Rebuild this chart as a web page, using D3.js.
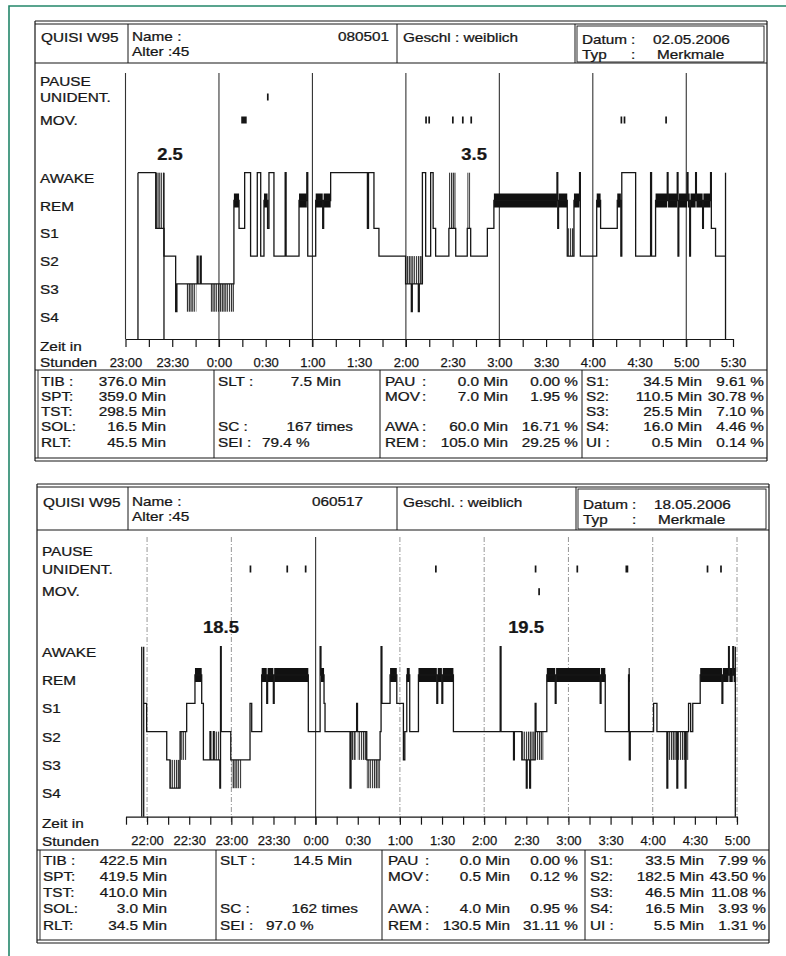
<!DOCTYPE html>
<html><head><meta charset="utf-8">
<script src="https://cdn.jsdelivr.net/npm/d3@7"></script>
<style>
html,body{margin:0;padding:0;background:#fff;}
svg{display:block;}
text{font-family:"Liberation Sans",Arial,sans-serif;fill:#161616;stroke:#161616;stroke-width:0.25;}
</style></head><body>
<svg id="chart" width="786" height="956"></svg>
<script>
// ---------- shared categories ----------
const STAGES = ["AWAKE","REM","S1","S2","S3","S4"];
const EVENT_ROWS = ["PAUSE","UNIDENT.","MOV."];

// ---------- night 1 (02.05.2006), minutes after 23:00 ----------
const night1Id = "080501";
const night1Sex = "Geschl : weiblich";
const night1Date = "02.05.2006";
const night1Cycle = [["2.5", 28.6], ["3.5", 223.8]];
const night1TickLabels = ["23:00","23:30","0:00","0:30","1:00","1:30","2:00","2:30","3:00","3:30","4:00","4:30","5:00","5:30"];
const night1Span = [0, 390];
const night1Hypnogram = [
  [8.0,"AWAKE"],[19.4,"S1"],[24.7,"S2"],[32.2,"S4"],[33.0,"S3"],
  [46.0,"S2"],[46.6,"S3"],[48.0,"S2"],[48.6,"S3"],
  [69.6,"REM"],[72.9,"S1"],[76.5,"AWAKE"],[80.3,"S2"],[84.6,"AWAKE"],[86.8,"S2"],
  [88.9,"REM"],[91.2,"S1"],[92.1,"AWAKE"],[95.3,"S2"],[102.5,"AWAKE"],[103.1,"S2"],
  [111.4,"REM"],[116.4,"AWAKE"],[117.0,"S2"],[122.1,"REM"],[126.6,"S1"],[127.2,"REM"],
  [131.7,"AWAKE"],[155.3,"S1"],[156.0,"AWAKE"],[159.5,"S1"],[162.7,"S2"],
  [179.8,"S3"],[183.5,"S4"],[184.1,"S3"],[188.0,"S4"],[188.6,"S3"],
  [190.6,"AWAKE"],[192.7,"S2"],[195.9,"AWAKE"],[197.5,"S1"],[199.1,"S2"],
  [207.6,"S1"],[212.0,"S2"],[219.4,"S1"],[221.6,"S2"],[232.3,"S1"],
  [236.5,"REM"],[277.0,"AWAKE"],[277.5,"S1"],[278.0,"REM"],
  [283.6,"S2"],[287.9,"REM"],[291.5,"AWAKE"],[292.0,"S2"],
  [302.5,"REM"],[305.0,"S1"],[315.7,"REM"],[318.0,"S2"],[318.6,"AWAKE"],
  [327.5,"S2"],[337.1,"AWAKE"],[337.7,"S2"],[340.3,"REM"],
  [347.8,"AWAKE"],[348.3,"REM"],[354.2,"AWAKE"],[354.7,"S2"],[355.2,"REM"],
  [360.6,"AWAKE"],[361.1,"REM"],[362.2,"S2"],[362.7,"REM"],[366.0,"AWAKE"],[366.5,"REM"],
  [370.5,"S1"],[371.0,"REM"],[375.6,"AWAKE"],[376.1,"S1"],[378.8,"S2"]
];
const night1End = 385.2;
// stretches of epoch-by-epoch flicker between two stages: start, end, upper, lower
const night1Bursts = [
  [19.4,24.7,"AWAKE","S1"],[39.0,45.5,"S3","S4"],[54.7,69.6,"S3","S4"],
  [179.8,190.6,"S2","S3"],[207.6,212.0,"AWAKE","S1"],[219.4,221.6,"AWAKE","S1"],
  [283.6,287.9,"S1","S2"]
];
const night1Markers = [8.0, 24.7, 385.2];
const night1Unident = [[90.8,91.3]];
const night1Mov = [[74.3,77.8],[192.4,192.9],[194.4,194.9],[209.6,210.1],[216.0,216.5],[221.4,221.9],[317.8,318.3],[319.8,320.3],[346.5,347.0]];
const night1StatsA = [["TIB :","376.0 Min"],["SPT:","359.0 Min"],["TST:","298.5 Min"],["SOL:","16.5 Min"],["RLT:","45.5 Min"]];
const night1StatsB = [["SLT :","7.5 Min"],null,null,["SC :","167 times"],["SEI :","79.4 %"]];
const night1StatsC = [["PAU",":","0.0 Min","0.00 %"],["MOV",":","7.0 Min","1.95 %"],null,["AWA",":","60.0 Min","16.71 %"],["REM",":","105.0 Min","29.25 %"]];
const night1StatsD = [["S1:","34.5 Min","9.61 %"],["S2:","110.5 Min","30.78 %"],["S3:","25.5 Min","7.10 %"],["S4:","16.0 Min","4.46 %"],["UI :","0.5 Min","0.14 %"]];

// ---------- night 2 (18.05.2006), minutes after 21:45 ----------
const night2Id = "060517";
const night2Sex = "Geschl. : weiblich";
const night2Date = "18.05.2006";
const night2Cycle = [["18.5", 67.6], ["19.5", 284.8]];
const night2TickLabels = ["22:00","22:30","23:00","23:30","0:00","0:30","1:00","1:30","2:00","2:30","3:00","3:30","4:00","4:30","5:00"];
const night2Span = [0, 435];
const night2Hypnogram = [
  [12.6,"S1"],[14.7,"S2"],[29.0,"S3"],[31.3,"S4"],[38.5,"S2"],[43.2,"S1"],
  [49.1,"REM"],[53.9,"S1"],[55.1,"S3"],[59.8,"S2"],[60.4,"S3"],[62.2,"S2"],[62.8,"S3"],
  [66.8,"S4"],[67.3,"AWAKE"],[67.8,"S2"],[74.6,"S3"],[88.3,"S1"],[89.5,"S2"],
  [96.6,"REM"],[100.2,"S1"],[100.8,"REM"],[104.9,"S1"],[105.5,"REM"],
  [129.8,"S2"],[138.2,"AWAKE"],[138.8,"REM"],[141.0,"S1"],[141.7,"S2"],
  [159.5,"S4"],[160.2,"S2"],[164.2,"S1"],[164.8,"S2"],[171.4,"S3"],[180.9,"S2"],
  [181.6,"AWAKE"],[182.2,"S1"],[188.0,"REM"],[192.8,"S1"],[197.5,"S3"],[198.5,"S2"],
  [199.9,"REM"],[202.0,"S2"],[208.2,"REM"],[221.3,"S1"],[221.9,"REM"],[224.9,"S1"],[225.5,"REM"],
  [233.1,"S2"],[266.4,"AWAKE"],[267.0,"S2"],[275.9,"S3"],[276.5,"S2"],
  [281.8,"S3"],[285.0,"S4"],[285.6,"S3"],[287.4,"S4"],[288.0,"S3"],[291.3,"S1"],[291.9,"S2"],
  [299.6,"REM"],[305.6,"S1"],[306.2,"REM"],[337.6,"S1"],[338.2,"REM"],
  [341.2,"S2"],[357.8,"REM"],[358.3,"S3"],[359.0,"S2"],[375.6,"S1"],[378.0,"S2"],
  [385.1,"S4"],[385.7,"S2"],[392.2,"S4"],[392.8,"S2"],[398.1,"S4"],[398.7,"S2"],
  [400.5,"S1"],[402.0,"S2"],[403.5,"S1"],[408.8,"REM"],[424.3,"S1"],[424.9,"REM"],
  [429.0,"AWAKE"],[429.5,"REM"],[432.0,"AWAKE"],[432.6,"REM"]
];
const night2End = 433.8;
const night2Bursts = [
  [31.3,38.5,"S3","S4"],[38.5,43.2,"S2","S3"],[63.5,66.8,"S2","S3"],[75.3,82.4,"S3","S4"],
  [160.2,163.8,"S2","S3"],[165.0,171.4,"S2","S3"],[171.4,180.9,"S3","S4"],
  [281.8,297.2,"S2","S3"],[385.1,400.5,"S2","S3"]
];
const night2Markers = [11.2, 12.6, 433.8];
const night2Unident = [[88.0,88.5],[114.2,114.7],[127.3,127.8],[220.0,220.5],[291.0,291.5],[320.7,321.2],[355.6,357.6],[413.4,413.9],[423.0,423.5]];
const night2Mov = [[293.5,294.0]];
const night2StatsA = [["TIB :","422.5 Min"],["SPT:","419.5 Min"],["TST:","410.0 Min"],["SOL:","3.0 Min"],["RLT:","34.5 Min"]];
const night2StatsB = [["SLT :","14.5 Min"],null,null,["SC :","162 times"],["SEI :","97.0 %"]];
const night2StatsC = [["PAU",":","0.0 Min","0.00 %"],["MOV",":","0.5 Min","0.12 %"],null,["AWA",":","4.0 Min","0.95 %"],["REM",":","130.5 Min","31.11 %"]];
const night2StatsD = [["S1:","33.5 Min","7.99 %"],["S2:","182.5 Min","43.50 %"],["S3:","46.5 Min","11.08 %"],["S4:","16.5 Min","3.93 %"],["UI :","5.5 Min","1.31 %"]];

// ---------- drawing ----------
const svg = d3.select("#chart");
const INK = "#161616";
const SX = 1.18;   // printer font runs wide

const defs = svg.append("defs");
defs.append("pattern").attr("id","flicker").attr("patternUnits","userSpaceOnUse")
  .attr("width",2.2).attr("height",40)
  .append("rect").attr("width",1.3).attr("height",40).attr("fill",INK);

// page frame
svg.append("path").attr("d","M9,956 V6 H786").attr("fill","none")
  .attr("stroke","#23866a").attr("stroke-width",1.6);

function hline(g,x1,x2,y,w=1,c=INK){g.append("line").attr("x1",x1).attr("x2",x2).attr("y1",y).attr("y2",y).attr("stroke",c).attr("stroke-width",w);}
function vline(g,x,y1,y2,w=1,c=INK){g.append("line").attr("x1",x).attr("x2",x).attr("y1",y1).attr("y2",y2).attr("stroke",c).attr("stroke-width",w);}
function txt(g,s,x,y,opt={}){
  const t=g.append("text").attr("transform",`translate(${x},${y}) scale(${opt.sx||SX},1)`).text(s)
    .attr("font-size",opt.size||13).attr("text-anchor",opt.anchor||"start");
  if(opt.bold) t.attr("font-weight","bold");
  return t;
}

function drawPanel(L, D){
  const g = svg.append("g");

  // ---- frames ----
  hline(g,L.left,L.right,L.top-3,1.2); hline(g,L.left,L.right,L.top,1);
  hline(g,L.left,L.right,L.headBottom,1.1);
  vline(g,L.left,L.top-3,L.statsBottom+3,1.2); vline(g,L.right,L.top-3,L.statsBottom+3,1.2);
  L.headDiv.forEach(x=>vline(g,x,L.top,L.headBottom,1));
  g.append("rect").attr("x",L.headDiv[2]+2).attr("y",L.top+2).attr("width",L.right-L.headDiv[2]-5)
    .attr("height",L.headBottom-L.top-3).attr("fill","none").attr("stroke",INK).attr("stroke-width",0.9);
  hline(g,L.left,L.right,L.statsTop,1.1);
  hline(g,L.left,L.right,L.statsBottom,1.1); hline(g,L.left,L.right,L.statsBottom+3,1.2);
  vline(g,L.left+3,L.statsTop,L.statsBottom,0.9);
  L.statsDiv.forEach(x=>vline(g,x,L.statsTop,L.statsBottom,1));

  // ---- header ----
  const hy1=L.top+L.headRow1, hy2=hy1+14.5;
  txt(g,"QUISI W95",L.left+6,hy1+1);
  txt(g,"Name :",L.headDiv[0]+4,hy1); txt(g,D.id,L.idX,hy1);
  txt(g,"Alter",L.headDiv[0]+4,hy2); txt(g,":45",L.headDiv[0]+40,hy2);
  txt(g,D.sex,L.headDiv[1]+6,hy1+1);
  txt(g,"Datum",L.headDiv[2]+7,hy1+3); txt(g,":",L.headDiv[2]+56,hy1+3); txt(g,D.date,L.headDiv[2]+78,hy1+3);
  txt(g,"Typ",L.headDiv[2]+7,hy2+3); txt(g,":",L.headDiv[2]+56,hy2+3); txt(g,"Merkmale",L.headDiv[2]+82,hy2+3);

  // ---- scales ----
  const x = d3.scaleLinear().domain(D.span).range(L.xRange);
  const y = d3.scalePoint().domain(STAGES).range([L.awakeY, L.s4Y]);
  const ev = d3.scaleOrdinal().domain(EVENT_ROWS).range(L.eventY);

  // ---- row labels ----
  EVENT_ROWS.forEach(r=>txt(g,r,L.left+5,ev(r)+4.5));
  STAGES.forEach(s=>txt(g,s,L.left+5,y(s)+10));
  txt(g,"Zeit in",L.left+5,L.zeitY+4.5);
  txt(g,"Stunden",L.left+5,L.stundenY+4.5);

  // ---- grid ----
  const hours = d3.range(D.gridStart, D.span[1]+0.1, 60);
  hours.forEach(h=>{
    const solid = L.solidAll || h===L.solidAt;
    const ln = g.append("line").attr("x1",x(h)).attr("x2",x(h)).attr("y1",L.chartTop).attr("y2",L.baseY+8)
      .attr("stroke", solid ? "#333" : "#8a8a8a").attr("stroke-width", solid ? 1.1 : 0.9);
    if(!solid) ln.attr("stroke-dasharray","5,2,1,2");
  });
  if(L.leftEdge) vline(g,x(D.span[0]),L.chartTop,L.baseY,1.1,"#333");

  // ---- axis ----
  const ax = d3.axisBottom(x)
    .tickValues(d3.range(D.span[0], D.span[1]+0.1, 15))
    .tickSizeInner(8).tickSizeOuter(0)
    .tickFormat(d=>{const k=(d-D.firstLabel)/30; return (k>=0 && Number.isInteger(k)) ? D.ticks[k] : "";});
  const axg = g.append("g").attr("transform",`translate(0,${L.baseY})`).call(ax);
  axg.select(".domain").attr("stroke",INK).attr("stroke-width",1.2);
  axg.selectAll(".tick line").attr("stroke",INK).attr("stroke-width",1.2);
  axg.selectAll(".tick text").attr("y",L.stundenY-L.baseY+4.5).attr("dy",null)
    .attr("font-size",13).attr("font-family","'Liberation Sans',Arial,sans-serif")
    .attr("fill",INK).attr("stroke",INK).attr("stroke-width",0.25);

  // ---- cycle labels ----
  D.cycle.forEach(([s,t])=>txt(g,s,x(t),L.cycleY,{size:16,bold:true,anchor:"middle",sx:1.15}));

  // ---- event ticks ----
  const evRow=(list,row)=>g.append("g").selectAll("rect").data(list).join("rect")
    .attr("x",d=>x(d[0])).attr("width",d=>Math.max(1.7,x(d[1])-x(d[0])))
    .attr("y",ev(row)-3.5).attr("height",7).attr("fill",INK);
  evRow(D.unident,"UNIDENT.");
  evRow(D.mov,"MOV.");

  // ---- flicker stretches ----
  g.append("g").selectAll("rect").data(D.bursts).join("rect")
    .attr("x",d=>x(d[0])).attr("width",d=>x(d[1])-x(d[0]))
    .attr("y",d=>y(d[2])).attr("height",d=>y(d[3])-y(d[2]))
    .attr("fill","url(#flicker)").attr("opacity",0.92);

  // ---- REM bars ----
  const segs = D.hyp.map((d,i)=>({t0:d[0], t1:i<D.hyp.length-1?D.hyp[i+1][0]:D.end, s:d[1]}));
  g.append("g").selectAll("rect").data(segs.filter(s=>s.s==="REM")).join("rect")
    .attr("x",d=>x(d.t0)).attr("width",d=>Math.max(1.2,x(d.t1)-x(d.t0)))
    .attr("y",y("REM")-7).attr("height",14).attr("fill","#111");

  // ---- stage trace ----
  const pts = D.hyp.map(d=>[d[0],d[1]]).concat([[D.end, D.hyp[D.hyp.length-1][1]]]);
  g.append("path").datum(pts)
    .attr("d", d3.line().x(d=>x(d[0])).y(d=>y(d[1])).curve(d3.curveStepAfter))
    .attr("fill","none").attr("stroke",INK).attr("stroke-width",1.3);

  // recording start / sleep onset / end markers
  g.append("g").selectAll("line").data(D.markers).join("line")
    .attr("x1",d=>x(d)).attr("x2",d=>x(d)).attr("y1",L.baseY).attr("y2",y("AWAKE"))
    .attr("stroke",INK).attr("stroke-width",1.3);

  // ---- statistics ----
  const ry = i=>L.statsRow0+i*L.rowStep+4.5;
  D.sA.forEach((r,i)=>{ txt(g,r[0],L.cA[0],ry(i)); txt(g,r[1],L.cA[1],ry(i),{anchor:"end"}); });
  D.sB.forEach((r,i)=>{ if(!r) return; txt(g,r[0],L.cB[0],ry(i));
    if(i===4) txt(g,r[1],L.cB[3],ry(i)); else txt(g,r[1],i===3?L.cB[2]:L.cB[1],ry(i),{anchor:"end"}); });
  D.sC.forEach((r,i)=>{ if(!r) return; txt(g,r[0],L.cC[0],ry(i)); txt(g,r[1],L.cC[1],ry(i));
    txt(g,r[2],L.cC[2],ry(i),{anchor:"end"}); txt(g,r[3],L.cC[3],ry(i),{anchor:"end"}); });
  D.sD.forEach((r,i)=>{ txt(g,r[0],L.cD[0],ry(i)); txt(g,r[1],L.cD[1],ry(i),{anchor:"end"}); txt(g,r[2],L.cD[2],ry(i),{anchor:"end"}); });
}

drawPanel(
  {left:35,right:767,top:24,headBottom:63,headRow1:17,headDiv:[128,397,575],idX:338,
   chartTop:73,eventY:[81,97,120],cycleY:160,awakeY:172.7,s4Y:311.7,baseY:339,zeitY:346,stundenY:362,
   xRange:[125.5,733],solidAll:true,leftEdge:true,
   statsTop:370,statsBottom:458,statsDiv:[214,380,582],statsRow0:381,rowStep:15.3,
   cA:[41,166],cB:[218,341,353,262],cC:[385,422,508,578],cD:[586,702,764]},
  {id:night1Id,sex:night1Sex,date:night1Date,cycle:night1Cycle,ticks:night1TickLabels,span:night1Span,
   firstLabel:0,gridStart:60,hyp:night1Hypnogram,end:night1End,bursts:night1Bursts,markers:night1Markers,
   unident:night1Unident,mov:night1Mov,sA:night1StatsA,sB:night1StatsB,sC:night1StatsC,sD:night1StatsD}
);

drawPanel(
  {left:37,right:769,top:487,headBottom:530,headRow1:19,headDiv:[128,397,576],idX:312,
   chartTop:537,eventY:[551.7,569,591.7],cycleY:633,awakeY:646.7,s4Y:788.2,baseY:816.7,zeitY:823,stundenY:841,
   xRange:[126,737],solidAll:false,solidAt:135,leftEdge:false,
   statsTop:850,statsBottom:940,statsDiv:[216,382,585],statsRow0:860,rowStep:16.3,
   cA:[43,167],cB:[220,352,358,266],cC:[388,425,510,578],cD:[590,704,766]},
  {id:night2Id,sex:night2Sex,date:night2Date,cycle:night2Cycle,ticks:night2TickLabels,span:night2Span,
   firstLabel:15,gridStart:15,hyp:night2Hypnogram,end:night2End,bursts:night2Bursts,markers:night2Markers,
   unident:night2Unident,mov:night2Mov,sA:night2StatsA,sB:night2StatsB,sC:night2StatsC,sD:night2StatsD}
);
</script></body></html>
